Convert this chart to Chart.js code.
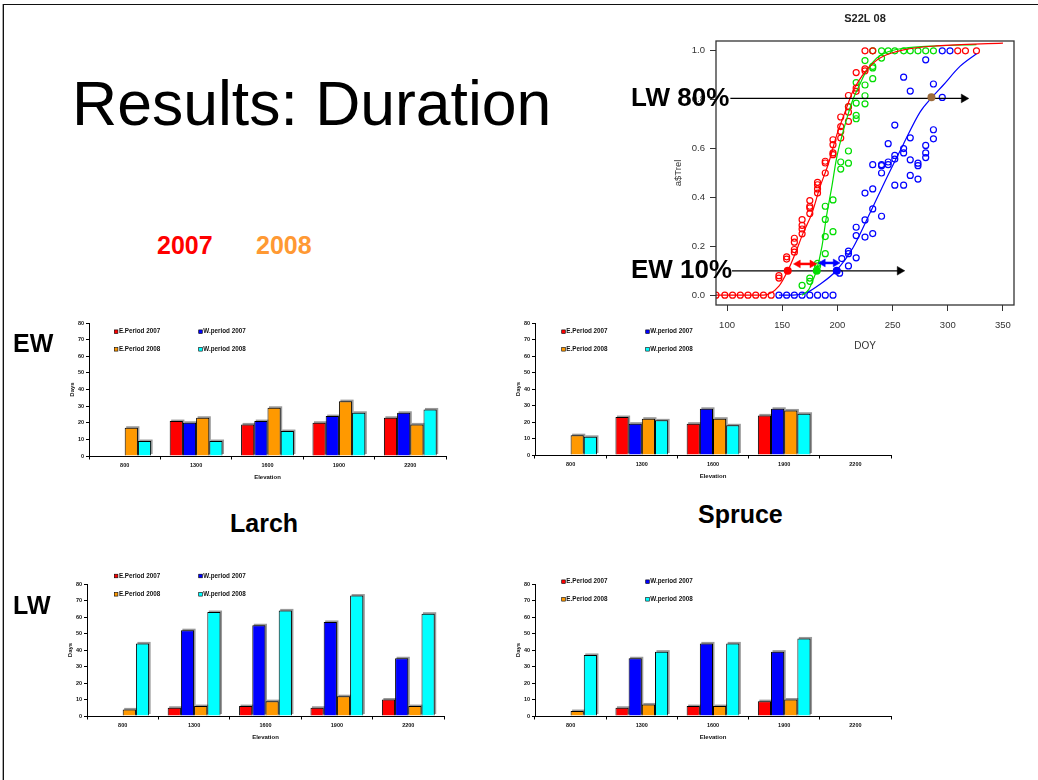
<!DOCTYPE html>
<html>
<head>
<meta charset="utf-8">
<script src="https://cdn.jsdelivr.net/npm/chart.js@4.4.1/dist/chart.umd.min.js"></script>
<style>
body { margin: 0; background: #fff; }
#slide { position: relative; width: 1038px; height: 780px; overflow: hidden; background: #fff; font-family: "Liberation Sans", Arial, sans-serif; }
#frame { position: absolute; left: 3px; top: 4px; width: 1100px; height: 900px; border-top: 1.5px solid #111; border-left: 1.5px solid #111; box-shadow: -1px 0 0 #aaa; }
canvas { position: absolute; }
.txt { position: absolute; white-space: nowrap; line-height: 1; z-index: 5; color: #000; }
.b { font-weight: bold; }
</style>
</head>
<body>
<div id="slide">
  <div id="frame"></div>

  <canvas id="doyChart" width="418" height="360" style="left:620px;top:0px"></canvas>
  <canvas id="larchEw" width="403" height="183" style="left:49px;top:303px"></canvas>
  <canvas id="spruceEw" width="402" height="182" style="left:495px;top:303px"></canvas>
  <canvas id="larchLw" width="403" height="182" style="left:47px;top:564px"></canvas>
  <canvas id="spruceLw" width="402" height="182" style="left:495px;top:564px"></canvas>

  <div class="txt" style="left:72px;top:72px;font-size:62.5px">Results: Duration</div>
  <div class="txt b" style="left:157px;top:233px;font-size:25px;color:#ff0000">2007</div>
  <div class="txt b" style="left:256px;top:233px;font-size:25px;color:#ff9933">2008</div>
  <div class="txt b" style="left:13px;top:331px;font-size:25px">EW</div>
  <div class="txt b" style="left:13px;top:593px;font-size:25px">LW</div>
  <div class="txt b" style="left:230px;top:511px;font-size:25px">Larch</div>
  <div class="txt b" style="left:698px;top:502px;font-size:25px">Spruce</div>
  <div class="txt b" style="left:631px;top:84px;font-size:26px">LW 80%</div>
  <div class="txt b" style="left:631px;top:256px;font-size:26px">EW 10%</div>
</div>

<script>
// ---- bar charts: duration in days per elevation ----
const elevations = ['800', '1300', '1600', '1900', '2200'];
const seriesNames = ['E.Period 2007', 'W.period 2007', 'E.Period 2008', 'W.period 2008'];
const seriesColors = ['#ff0000', '#0000ff', '#ff9900', '#00ffff'];
const dayTicks = [0, 10, 20, 30, 40, 50, 60, 70, 80];

const larchEwE07 = [null, 21, 19, 20, 23];
const larchEwW07 = [null, 20, 21, 24, 26];
const larchEwE08 = [17, 23, 29, 33, 19];
const larchEwW08 = [9, 9, 15, 26, 28];

const spruceEwE07 = [null, 23, 19, 24, null];
const spruceEwW07 = [null, 19, 28, 28, null];
const spruceEwE08 = [12, 22, 22, 27, null];
const spruceEwW08 = [11, 21, 18, 25, null];

const larchLwE07 = [null, 5, 6, 5, 10];
const larchLwW07 = [null, 52, 55, 57, 35];
const larchLwE08 = [4, 6, 9, 12, 6];
const larchLwW08 = [44, 63, 64, 73, 62];

const spruceLwE07 = [null, 5, 6, 9, null];
const spruceLwW07 = [null, 35, 44, 39, null];
const spruceLwE08 = [3, 7, 6, 10, null];
const spruceLwW08 = [37, 39, 44, 47, null];

// ---- S22L 08 curves: [DOY, relative] ----
const doyTitle = 'S22L 08';
const doyTicks = [100, 150, 200, 250, 300, 350];
const relTicks = [0, 0.2, 0.4, 0.6, 0.8, 1.0];

const redPts = [
  [90, 0], [98, 0], [105, 0], [112, 0], [119, 0], [126, 0], [133, 0], [140, 0],
  [147, 0.08], [147, 0.07], [154, 0.157], [154, 0.148],
  [161, 0.233], [161, 0.217], [161, 0.187], [161, 0.176],
  [168, 0.309], [168, 0.286], [168, 0.271], [168, 0.251],
  [175, 0.387], [175, 0.364], [175, 0.357], [175, 0.334],
  [182, 0.462], [182, 0.452], [182, 0.435], [182, 0.418],
  [189, 0.548], [189, 0.541], [189, 0.5],
  [196, 0.636], [196, 0.616], [196, 0.582], [196, 0.575],
  [203, 0.729], [203, 0.69], [203, 0.67], [203, 0.643],
  [210, 0.817], [210, 0.772], [210, 0.749], [210, 0.711],
  [217, 0.911], [217, 0.847], [217, 0.834],
  [225, 0.926], [225, 0.918], [225, 1], [232, 1],
  [309, 1], [316, 1], [326, 1]
];
const greenPts = [
  [168, 0.04], [175, 0.07], [175, 0.057], [182, 0.13], [182, 0.12],
  [189, 0.364], [189, 0.31], [189, 0.24], [189, 0.17],
  [196, 0.39], [196, 0.26], [203, 0.545], [203, 0.516],
  [210, 0.77], [210, 0.59], [210, 0.54],
  [217, 0.87], [217, 0.786], [217, 0.736], [217, 0.722],
  [225, 0.96], [225, 0.86], [225, 0.816], [225, 0.783],
  [232, 0.936], [232, 0.93], [232, 0.886], [240, 0.97],
  [232, 1], [240, 1], [246, 1], [252, 1], [260, 1], [266, 1], [273, 1], [280, 1], [287, 1]
];
const bluePts = [
  [147, 0], [154, 0], [161, 0], [168, 0], [175, 0], [182, 0], [189, 0], [196, 0],
  [202, 0.09], [204, 0.15], [210, 0.18], [210, 0.17], [210, 0.12],
  [217, 0.278], [217, 0.244], [217, 0.153],
  [225, 0.418], [225, 0.308], [225, 0.238],
  [232, 0.534], [232, 0.435], [232, 0.353], [232, 0.252],
  [240, 0.534], [240, 0.53], [240, 0.5], [240, 0.323],
  [246, 0.62], [246, 0.545], [246, 0.534],
  [252, 0.696], [252, 0.572], [252, 0.557], [252, 0.45],
  [260, 0.892], [260, 0.6], [260, 0.582], [260, 0.45],
  [266, 0.835], [266, 0.644], [266, 0.554], [266, 0.49],
  [273, 0.54], [273, 0.53], [273, 0.475],
  [280, 0.963], [280, 0.613], [280, 0.582], [280, 0.563],
  [287, 0.864], [287, 0.677], [287, 0.64],
  [295, 0.809], [295, 1], [302, 1]
];

const redFit = [[90, 0], [133, 0], [147, 0.037], [155, 0.1], [162, 0.173], [169, 0.255], [177, 0.336], [184, 0.44],
  [192, 0.54], [199, 0.65], [207, 0.75], [214, 0.834], [222, 0.895], [229.5, 0.936], [237, 0.966],
  [244.6, 0.984], [260, 1.004], [290, 1.02], [350, 1.031]];
const greenFit = [[168, 0], [174, 0.023], [178, 0.064], [181, 0.1], [186, 0.2], [190, 0.32], [195, 0.445], [199, 0.555],
  [204, 0.65], [210, 0.745], [214, 0.8], [220, 0.86], [226.5, 0.92], [235.5, 0.97], [244.6, 0.994],
  [260, 1.01], [290, 1.02], [326, 1.025]];
const blueFit = [[147, 0], [160, 0], [172, 0.01], [184, 0.044], [199, 0.1], [214, 0.193], [229.5, 0.336], [244.6, 0.48],
  [260, 0.62], [275, 0.75], [285, 0.806], [296, 0.86], [311, 0.936], [326, 0.988]];

// annotations (arrow ends, gaps between EW 10% crossings, crossing dots)
const lwArrow = [[103, 0.805], [314.5, 0.805]];
const ewArrow = [[104.5, 0.1], [256.5, 0.1]];
const redGap = [[164.3, 0.128], [177.2, 0.128]];
const blueGap = [[186.9, 0.132], [198.3, 0.132]];
const markDots = [[155, 0.1], [181.3, 0.1], [199.4, 0.1], [285.2, 0.81]];
const markColors = ['#ff0000', '#00dd00', '#0000ff', '#9c6b3c'];

Chart.defaults.font.family = '"Liberation Sans", Arial, sans-serif';

const xy = pairs => pairs.map(([x, y]) => ({ x, y }));

// --- plugins ---
const gridLegend = {
  id: 'gridLegend',
  afterDraw(chart, args, opts) {
    const { ctx, chartArea } = chart;
    ctx.save();
    ctx.font = 'bold 6.3px "Liberation Sans", Arial, sans-serif';
    ctx.textBaseline = 'middle';
    chart.data.datasets.forEach((ds, i) => {
      const x = chartArea.left + opts.cols[i % 2];
      const y = chartArea.top + opts.rows[Math.floor(i / 2)];
      ctx.fillStyle = ds.backgroundColor;
      ctx.fillRect(x, y - 1.8, 3.6, 3.6);
      ctx.strokeStyle = '#000';
      ctx.lineWidth = 0.6;
      ctx.strokeRect(x, y - 1.8, 3.6, 3.6);
      ctx.fillStyle = '#111';
      ctx.fillText(ds.label, x + 4.6, y);
    });
    ctx.restore();
  }
};

const barShadow = {
  id: 'barShadow',
  beforeDatasetsDraw(chart) {
    const ctx = chart.ctx;
    ctx.save();
    ctx.fillStyle = '#9a9a9a';
    chart.data.datasets.forEach((ds, i) => {
      chart.getDatasetMeta(i).data.forEach(bar => {
        const p = bar.getProps(['x', 'y', 'base', 'width']);
        if (!(p.base - p.y > 0.5)) return;
        ctx.fillRect(p.x - p.width / 2 + 1.5, p.y - 1.5, p.width, p.base - p.y);
      });
    });
    ctx.restore();
  }
};

const plotFrame = {
  id: 'plotFrame',
  afterDraw(chart, args, opts) {
    const { ctx, chartArea: a } = chart;
    ctx.save();
    ctx.strokeStyle = '#333';
    ctx.lineWidth = 1.3;
    ctx.strokeRect(a.left, a.top, a.right - a.left, a.bottom - a.top);
    ctx.fillStyle = '#222';
    ctx.font = 'bold 11px "Liberation Sans", Arial, sans-serif';
    ctx.textAlign = 'center';
    ctx.textBaseline = 'middle';
    ctx.fillText(opts.title, (a.left + a.right) / 2, a.top - 22);
    ctx.restore();
  }
};

// --- bar charts ---
const barChart = (id, series, legendPos) => new Chart(document.getElementById(id), {
  type: 'bar',
  data: {
    labels: elevations,
    datasets: series.map((vals, i) => ({
      label: seriesNames[i],
      data: vals,
      backgroundColor: seriesColors[i],
      borderColor: '#000',
      borderWidth: 1,
      categoryPercentage: 0.74,
      barPercentage: 1
    }))
  },
  options: {
    responsive: false,
    animation: false,
    events: [],
    layout: { padding: { top: 20, right: 6, left: 0, bottom: 0 } },
    plugins: { legend: { display: false }, tooltip: { enabled: false }, gridLegend: legendPos },
    scales: {
      x: {
        afterFit: s => { s.height = 30; },
        grid: { offset: true, drawOnChartArea: false, tickLength: 3.5, color: '#000' },
        border: { color: '#000', width: 1 },
        ticks: { padding: 2.2, color: '#111', maxRotation: 0, autoSkip: false, font: { size: 5.5, weight: 'bold' } },
        title: { display: true, text: 'Elevation', color: '#111', font: { size: 6, weight: 'bold' }, padding: { top: 0, bottom: 4.7 } }
      },
      y: {
        min: 0, max: 80,
        afterFit: s => { s.width = 40; },
        afterBuildTicks: s => { s.ticks = dayTicks.map(v => ({ value: v })); },
        grid: { drawOnChartArea: false, tickLength: 3, color: '#000' },
        border: { color: '#000', width: 1 },
        ticks: { padding: 2, color: '#111', font: { size: 5.5, weight: 'bold' } },
        title: { display: true, text: 'Days', color: '#111', font: { size: 6, weight: 'bold' }, padding: { top: 20.2, bottom: 0 } }
      }
    }
  },
  plugins: [barShadow, gridLegend]
});

barChart('larchEw', [larchEwE07, larchEwW07, larchEwE08, larchEwW08], { cols: [25.3, 109.7], rows: [8.7, 26.3] });
barChart('spruceEw', [spruceEwE07, spruceEwW07, spruceEwE08, spruceEwW08], { cols: [26.7, 110.7], rows: [8.7, 26.3] });
barChart('larchLw', [larchLwE07, larchLwW07, larchLwE08, larchLwW08], { cols: [27.3, 111.7], rows: [-8, 10.3] });
barChart('spruceLw', [spruceLwE07, spruceLwW07, spruceLwE08, spruceLwW08], { cols: [26.7, 110.7], rows: [-2.3, 15.3] });

// --- DOY curve chart ---
const ptsSet = (pairs, color) => ({
  data: xy(pairs), showLine: false, order: 3,
  pointStyle: 'circle', pointRadius: 3, pointBorderWidth: 1.2,
  pointBorderColor: color, pointBackgroundColor: 'rgba(0,0,0,0)'
});
const fitSet = (pairs, color) => ({
  data: xy(pairs), showLine: true, order: 2, pointRadius: 0,
  borderColor: color, borderWidth: 1.2, cubicInterpolationMode: 'monotone'
});
const arrowSet = (pairs, color, width, radius, rotations) => ({
  data: xy(pairs), showLine: true, order: 1,
  borderColor: color, borderWidth: width,
  pointStyle: 'triangle', pointRadius: radius, pointRotation: rotations,
  pointBackgroundColor: color, pointBorderColor: color, pointBorderWidth: 0.5
});

new Chart(document.getElementById('doyChart'), {
  type: 'scatter',
  data: {
    datasets: [
      {
        data: xy(markDots), order: 0, pointRadius: 4, pointBorderWidth: 0,
        pointBackgroundColor: markColors, pointBorderColor: markColors
      },
      arrowSet(lwArrow, '#000', 1.2, [0, 5], [0, 90]),
      arrowSet(ewArrow, '#000', 1.2, [0, 5], [0, 90]),
      arrowSet(redGap, '#ff0000', 2.5, 4.5, [270, 90]),
      arrowSet(blueGap, '#0000ff', 2.5, 4.5, [270, 90]),
      fitSet(redFit, '#ff0000'),
      fitSet(greenFit, '#00dd00'),
      fitSet(blueFit, '#0000ff'),
      ptsSet(redPts, '#ff0000'),
      ptsSet(greenPts, '#00dd00'),
      ptsSet(bluePts, '#0000ff')
    ]
  },
  options: {
    responsive: false,
    animation: false,
    events: [],
    layout: { padding: { top: 41, right: 24, left: 0, bottom: 0 } },
    plugins: { legend: { display: false }, tooltip: { enabled: false }, plotFrame: { title: doyTitle } },
    scales: {
      x: {
        type: 'linear', min: 90, max: 360,
        afterFit: s => { s.height = 55; },
        afterBuildTicks: s => { s.ticks = doyTicks.map(v => ({ value: v })); },
        grid: { drawOnChartArea: false, tickLength: 6, color: '#333' },
        border: { display: false },
        ticks: { padding: 9, color: '#333', font: { size: 9.5 } },
        title: { display: true, text: 'DOY', color: '#333', font: { size: 10 }, padding: { top: 0, bottom: 7.3 } }
      },
      y: {
        min: -0.04, max: 1.04,
        afterFit: s => { s.width = 96; },
        afterBuildTicks: s => { s.ticks = relTicks.map(v => ({ value: v })); },
        grid: { drawOnChartArea: false, tickLength: 6, color: '#333' },
        border: { display: false },
        ticks: { padding: 5, color: '#333', font: { size: 9.5 }, callback: v => v.toFixed(1) },
        title: { display: true, text: 'a$Trel', color: '#333', font: { size: 9.5 }, padding: { top: 52.6, bottom: 0 } }
      }
    }
  },
  plugins: [plotFrame]
});
</script>
</body>
</html>
